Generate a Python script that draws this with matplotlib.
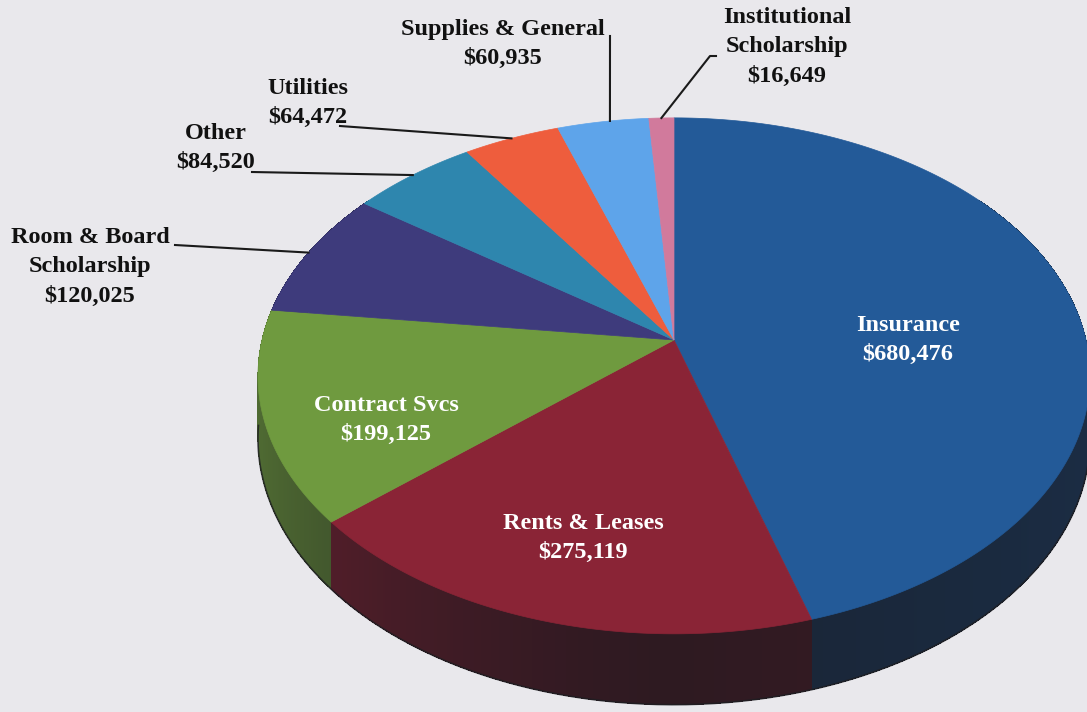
import numpy as np
import matplotlib
matplotlib.use("Agg")
import matplotlib.pyplot as plt
from matplotlib.patches import Polygon
from matplotlib.colors import to_rgb

# Expense categories, clockwise from 12 o'clock
categories = ["Insurance", "Rents & Leases", "Contract Svcs", "Room & Board\nScholarship",
              "Other", "Utilities", "Supplies & General", "Institutional\nScholarship"]
values = [680476, 275119, 199125, 120025, 84520, 64472, 60935, 16649]
colors = ["#235a98", "#8a2436", "#6f9a3f", "#3e3b7c", "#2e86ae", "#ee5d3d", "#5ea4ea", "#d17a9c"]

# Geometry of the perspective disc (pixel space)
CX, CY = 674, 340
A, B = 412, 253          # radii of the top face
K = 0.139                # perspective strength (near side larger)
DEPTH = 61               # thickness of the disc

W, H = 1087, 712
fig = plt.figure(figsize=(W / 100, H / 100), dpi=100)
fig.patch.set_facecolor("#e9e8ec")
ax = fig.add_axes([0, 0, 1, 1])
ax.set_xlim(0, W)
ax.set_ylim(H, 0)
ax.axis("off")


def proj(phi, drop=0.0):
    u = np.sin(phi)
    v = -np.cos(phi)
    s = 1.0 / (1.0 - K * v)
    return CX + A * u * s, CY + B * v * s + drop * s


total = float(sum(values))
bounds = np.concatenate([[0.0], np.cumsum(values) / total]) * 2 * np.pi

dark = np.array([0.09, 0.09, 0.11])

# Side walls, drawn back to front
segments = []
for i, col in enumerate(colors):
    phis = np.linspace(bounds[i], bounds[i + 1], max(3, int((bounds[i + 1] - bounds[i]) * 120)))
    top_rgb = np.array(to_rgb(col))
    for p0, p1 in zip(phis[:-1], phis[1:]):
        pm = 0.5 * (p0 + p1)
        v = -np.cos(pm)
        if v < -0.6:
            continue
        u = np.sin(pm)
        f = 0.2 + 0.45 * max(0.0, -u) ** 1.5 + 0.12 * max(0.0, u)
        c = f * top_rgb + (1 - f) * dark
        pts = [proj(p0), proj(p1), proj(p1, DEPTH), proj(p0, DEPTH)]
        segments.append((v, pts, c))

segments.sort(key=lambda s: s[0])
for _, pts, c in segments:
    ax.add_patch(Polygon(pts, closed=True, facecolor=c, edgecolor="none",
                         linewidth=0, antialiased=False))

# Thin dark outline along the visible bottom rim
lo = np.arccos(-K)
rim = np.linspace(lo - 0.05, 2 * np.pi - lo + 0.05, 300)
rx, ry = zip(*[proj(p, DEPTH) for p in rim])
ax.plot(rx, ry, color="#1e1e22", lw=1.2, alpha=0.8, solid_capstyle="butt")

# Top faces
for i, col in enumerate(colors):
    phis = np.linspace(bounds[i], bounds[i + 1], max(4, int((bounds[i + 1] - bounds[i]) * 150)))
    pts = [(CX, CY)] + [proj(p) for p in phis]
    ax.add_patch(Polygon(pts, closed=True, facecolor=col, edgecolor=col, linewidth=0.5))


def fmt(v):
    return "${:,}".format(v)


font = dict(family="Liberation Serif", fontweight="bold", fontsize=17.5)
LS = 1.5

# Labels placed on the large slices
inside = {0: (908, 340), 1: (583, 538), 2: (386, 420)}
for i, (x, y) in inside.items():
    ax.text(x, y, categories[i] + "\n" + fmt(values[i]), color="white",
            ha="center", va="center", linespacing=LS, **font)

# Outside labels with leader lines
outside = {
    3: dict(text=(90, 267), start=(175, 245)),
    4: dict(text=(216, 148), start=(252, 172)),
    5: dict(text=(308, 103), start=(340, 126)),
    6: dict(text=(503, 44), start=(610, 36)),
    7: dict(text=(787, 47), start=(710, 56)),
}
for i, cfg in outside.items():
    tx, ty = cfg["text"]
    ax.text(tx, ty, categories[i] + "\n" + fmt(values[i]), color="#111111",
            ha="center", va="center", linespacing=LS, **font)
    sx, sy = cfg["start"]
    if i == 6:
        # vertical leader meeting the rim directly below its start
        phis = np.linspace(bounds[i], bounds[i + 1], 400)
        xs = np.array([proj(p)[0] for p in phis])
        ex, ey = proj(phis[np.argmin(np.abs(xs - sx))])
        ax.plot([sx, ex], [sy, ey], color="#1a1a1a", lw=1.5)
    else:
        mid = 0.5 * (bounds[i] + bounds[i + 1])
        ex, ey = proj(mid)
        if i == 7:
            ax.plot([sx + 6, sx, ex], [sy, sy, ey], color="#1a1a1a", lw=1.5)
        else:
            ax.plot([sx, ex], [sy, ey], color="#1a1a1a", lw=1.5)

fig.savefig("out.png", dpi=100, facecolor=fig.get_facecolor())
